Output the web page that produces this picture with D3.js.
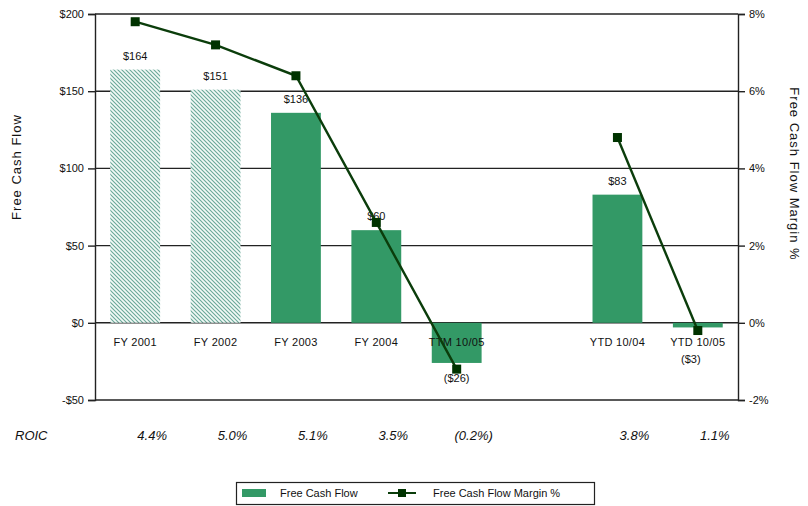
<!DOCTYPE html>
<html>
<head>
<meta charset="utf-8">
<script src="https://cdn.jsdelivr.net/npm/d3@7/dist/d3.min.js"></script>
<style>
  html, body { margin: 0; padding: 0; background: #fff; }
  svg { display: block; font-family: "Liberation Sans", Arial, sans-serif; }
</style>
</head>
<body>
<svg id="chart" width="808" height="506"></svg>
<script>
// Periods shown on the x axis ("" is an empty spacer slot)
const categories = ["FY 2001", "FY 2002", "FY 2003", "FY 2004", "TTM 10/05", "", "YTD 10/04", "YTD 10/05"];
// Free cash flow ($M); null = no bar in that slot
const freeCashFlow = [164, 151, 136, 60, -26, null, 83, -3];
// Which bars are drawn hatched
const hatched = [true, true, false, false, false, false, false, false];
// Free cash flow margin (%), drawn as two separate line segments
const marginSegments = [
  [["FY 2001", 7.8], ["FY 2002", 7.2], ["FY 2003", 6.4], ["FY 2004", 2.6], ["TTM 10/05", -1.2]],
  [["YTD 10/04", 4.8], ["YTD 10/05", -0.2]]
];
// ROIC row beneath the chart
const roic = ["4.4%", "5.0%", "5.1%", "3.5%", "(0.2%)", "", "3.8%", "1.1%"];
// Axis ticks
const leftTicks = [-50, 0, 50, 100, 150, 200];
const rightTicks = [-2, 0, 2, 4, 6, 8];

const svg = d3.select("#chart");
const plot = { left: 95, right: 738, top: 14, bottom: 400 };
const narrow = "'Liberation Sans Narrow', 'Arial Narrow', 'Liberation Sans', sans-serif";

const x = d3.scaleBand().domain(categories)
  .range([plot.left, plot.right]).paddingInner(0.38).paddingOuter(0.19);
const y = d3.scaleLinear().domain([-50, 200]).range([plot.bottom, plot.top]);
const y2 = d3.scaleLinear().domain([-2, 8]).range([plot.bottom, plot.top]);

const fmtDollar = v => v < 0 ? "($" + Math.abs(v) + ")" : "$" + v;

// Hatch pattern for the earlier fiscal years
const defs = svg.append("defs");
const pat = defs.append("pattern")
  .attr("id", "hatch").attr("patternUnits", "userSpaceOnUse")
  .attr("width", 4).attr("height", 4);
pat.append("rect").attr("width", 4).attr("height", 4).attr("fill", "#f3faf7");
pat.append("path").attr("d", "M-1,-1 L5,5 M-1,3 L1,5 M3,-1 L5,1")
  .attr("stroke", "#6aa898").attr("stroke-width", 1.1);

// Gridlines
svg.append("g").selectAll("line").data(leftTicks).join("line")
  .attr("x1", plot.left).attr("x2", plot.right)
  .attr("y1", d => y(d)).attr("y2", d => y(d))
  .attr("stroke", "#222").attr("stroke-width", 1.4);

// Bars
const barData = categories.map((c, i) => ({ c, v: freeCashFlow[i], h: hatched[i] }))
  .filter(d => d.v !== null);
svg.append("g").selectAll("rect").data(barData).join("rect")
  .attr("x", d => x(d.c)).attr("width", x.bandwidth())
  .attr("y", d => y(Math.max(0, d.v)))
  .attr("height", d => Math.abs(y(d.v) - y(0)))
  .attr("fill", d => d.h ? "url(#hatch)" : "#339966");

// Left axis
const leftAxis = svg.append("g").attr("transform", `translate(${plot.left},0)`)
  .call(d3.axisLeft(y).tickValues(leftTicks).tickSize(7).tickPadding(4)
    .tickFormat(d => d < 0 ? "-$" + Math.abs(d) : "$" + d));
// Right axis
const rightAxis = svg.append("g").attr("transform", `translate(${plot.right},0)`)
  .call(d3.axisRight(y2).tickValues(rightTicks).tickSize(7).tickPadding(4)
    .tickFormat(d => d + "%"));
[leftAxis, rightAxis].forEach(g => {
  g.select(".domain").attr("stroke", "#222").attr("stroke-width", 1.4);
  g.selectAll(".tick line").attr("stroke", "#222").attr("stroke-width", 1.4);
  g.selectAll(".tick text").attr("fill", "#111").attr("font-size", 11)
    .attr("font-family", "Liberation Sans, Arial, sans-serif");
});

// Category labels along the zero line
svg.append("g").selectAll("text").data(categories.filter(c => c)).join("text")
  .attr("x", d => x(d) + x.bandwidth() / 2).attr("y", y(0) + 23)
  .attr("text-anchor", "middle").attr("font-size", 11).attr("letter-spacing", 0.3)
  .attr("fill", "#111").text(d => d);

// Value labels
svg.append("g").selectAll("text").data(barData).join("text")
  .attr("x", d => x(d.c) + x.bandwidth() / 2 + (d.c === "YTD 10/05" ? -7 : 0))
  .attr("y", d => d.v >= 0 ? y(d.v) - 10 : (d.c === "YTD 10/05" ? y(d.v) + 36 : y(d.v) + 19))
  .attr("text-anchor", "middle").attr("font-size", 11)
  .attr("fill", "#111").text(d => fmtDollar(d.v));

// Margin line segments with square markers
const line = d3.line().x(d => x(d[0]) + x.bandwidth() / 2).y(d => y2(d[1]));
const lineG = svg.append("g");
marginSegments.forEach(seg => {
  lineG.append("path").datum(seg).attr("d", line)
    .attr("fill", "none").attr("stroke", "#0b3d0b").attr("stroke-width", 2.4);
  lineG.selectAll(null).data(seg).join("rect")
    .attr("x", d => x(d[0]) + x.bandwidth() / 2 - 4.5)
    .attr("y", d => y2(d[1]) - 4.5)
    .attr("width", 9).attr("height", 9).attr("fill", "#003300");
});

// Axis titles
svg.append("text").attr("transform", `translate(21,167) rotate(-90)`)
  .attr("text-anchor", "middle").attr("font-size", 13).attr("letter-spacing", 1)
  .attr("fill", "#111").text("Free Cash Flow");
svg.append("text").attr("transform", `translate(790,174) rotate(90)`)
  .attr("text-anchor", "middle").attr("font-size", 13).attr("letter-spacing", 1)
  .attr("fill", "#111").text("Free Cash Flow Margin %");

// ROIC row
svg.append("text").attr("x", 15).attr("y", 440).attr("font-size", 13)
  .attr("font-family", narrow)
  .attr("font-style", "italic").attr("fill", "#111").text("ROIC");
svg.append("g").selectAll("text").data(categories.map((c, i) => ({ c, r: roic[i] })).filter(d => d.r))
  .join("text")
  .attr("x", d => x(d.c) + x.bandwidth() / 2 + 17).attr("y", 440)
  .attr("text-anchor", "middle").attr("font-size", 13).attr("font-style", "italic")
  .attr("font-family", narrow)
  .attr("fill", "#111").text(d => d.r);

// Legend
const lg = svg.append("g");
lg.append("rect").attr("x", 236.5).attr("y", 482.5).attr("width", 358).attr("height", 22)
  .attr("fill", "#fff").attr("stroke", "#222").attr("stroke-width", 1.2);
lg.append("rect").attr("x", 242).attr("y", 489).attr("width", 24).attr("height", 8).attr("fill", "#339966");
lg.append("text").attr("x", 280).attr("y", 497).attr("font-size", 11).attr("fill", "#111").text("Free Cash Flow");
lg.append("line").attr("x1", 388).attr("x2", 416).attr("y1", 493).attr("y2", 493)
  .attr("stroke", "#0b3d0b").attr("stroke-width", 2);
lg.append("rect").attr("x", 398).attr("y", 489).attr("width", 8).attr("height", 8).attr("fill", "#003300");
lg.append("text").attr("x", 433).attr("y", 497).attr("font-size", 11).attr("fill", "#111").text("Free Cash Flow Margin %");
</script>
</body>
</html>
